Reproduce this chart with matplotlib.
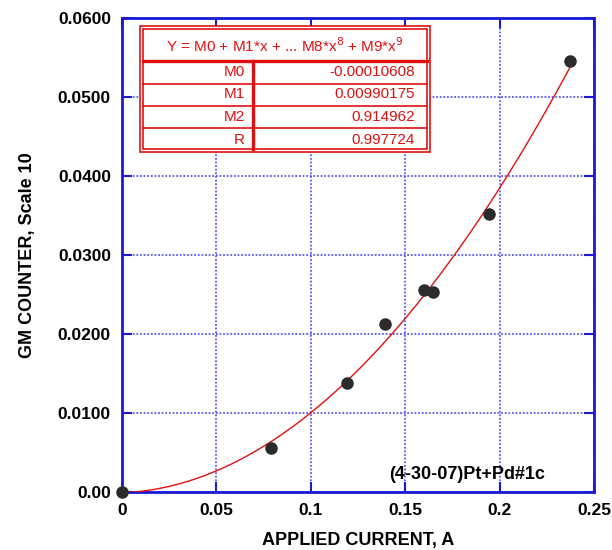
import numpy as np
import matplotlib.pyplot as plt
from matplotlib.patches import Rectangle

plt.rcParams['font.family'] = ['Liberation Sans', 'DejaVu Sans']

# measured points
current = [0.0, 0.079, 0.119, 0.1395, 0.160, 0.1645, 0.1945, 0.2375]
counts = [0.0, 0.0056, 0.0138, 0.0213, 0.0256, 0.0253, 0.0352, 0.0546]

# fit coefficients shown in the box
coef_names = ['M0', 'M1', 'M2', 'R']
coef_text = ['-0.00010608', '0.00990175', '0.914962', '0.997724']
M0, M1, M2 = -0.00010608, 0.00990175, 0.914962

xticks = [0, 0.05, 0.1, 0.15, 0.2, 0.25]
xtick_labels = ['0', '0.05', '0.1', '0.15', '0.2', '0.25']
yticks = [0, 0.01, 0.02, 0.03, 0.04, 0.05, 0.06]
ytick_labels = ['0.00', '0.0100', '0.0200', '0.0300', '0.0400', '0.0500', '0.0600']

blue = '#1a1ad6'
red = '#e01010'

fig = plt.figure(figsize=(6.12, 5.5), dpi=100)
ax = fig.add_axes([122/612, 1 - 492/550, 472/612, 474/550])

xf = np.linspace(0, max(current), 200)
ax.plot(xf, M0 + M1*xf + M2*xf**2, color=red, lw=1.0, zorder=3)
ax.plot(current, counts, 'o', color='#2b2b2b', ms=8, zorder=4, clip_on=False)

ax.set_xlim(0, 0.25)
ax.set_ylim(0, 0.06)
ax.set_xticks(xticks)
ax.set_xticklabels(xtick_labels)
ax.set_yticks(yticks)
ax.set_yticklabels(ytick_labels)
for lab in ax.get_xticklabels() + ax.get_yticklabels():
    lab.set_fontweight('bold')
    lab.set_fontsize(12.5)

ax.tick_params(direction='in', top=True, right=True, length=7, width=1.5,
               color=blue, pad=8)
for s in ax.spines.values():
    s.set_color(blue)
    s.set_linewidth(2)
ax.grid(True, color='#5a5af0', ls=(0, (1, 1)), lw=1.3)

ax.set_xlabel('APPLIED CURRENT, A', fontsize=13, fontweight='bold', labelpad=10)
ax.set_ylabel('GM COUNTER, Scale 10', fontsize=13, fontweight='bold', labelpad=16)

ax.text(0.1416, 0.0022, '(4-30-07)Pt+Pd#1c', fontsize=13, fontweight='bold',
        ha='left', va='center', zorder=5)

# coefficient box (positions in axes fraction)
def px(x, y):
    return (x - 122) / 472, (492 - y) / 474

tr = ax.transAxes
x0, y0 = px(140, 152)
x1, y1 = px(430, 26)
ax.add_patch(Rectangle((x0, y0), x1 - x0, y1 - y0, transform=tr,
                       facecolor='white', edgecolor=red, lw=1.2, zorder=6))
a0, b0 = px(143, 149)
a1, b1 = px(427, 29)
ax.add_patch(Rectangle((a0, b0), a1 - a0, b1 - b0, transform=tr,
                       facecolor='none', edgecolor=red, lw=1.2, zorder=7))
for yy, w in [(61, 2.4), (83.5, 1.2), (106, 1.2), (128, 1.2)]:
    _, yf = px(0, yy)
    ax.plot([a0, a1], [yf, yf], transform=tr, color=red, lw=w, zorder=7)
xs, _ = px(253, 0)
_, yt = px(0, 61)
ax.plot([xs, xs], [b0, yt], transform=tr, color=red, lw=2.4, zorder=7)

hx, hy = px(285, 46)
ax.text(hx, hy, r'Y = M0 + M1*x + ... M8*x$^8$ + M9*x$^9$', transform=tr,
        color=red, fontsize=11, ha='center', va='center', zorder=8)
for i, (n, v) in enumerate(zip(coef_names, coef_text)):
    ry = 72 + i * 22.5
    lx, ly = px(245, ry)
    vx, _ = px(415, ry)
    ax.text(lx, ly, n, transform=tr, color=red, fontsize=11,
            ha='right', va='center', zorder=8)
    ax.text(vx, ly, v, transform=tr, color=red, fontsize=11,
            ha='right', va='center', zorder=8)

fig.savefig('out.png', dpi=100)
